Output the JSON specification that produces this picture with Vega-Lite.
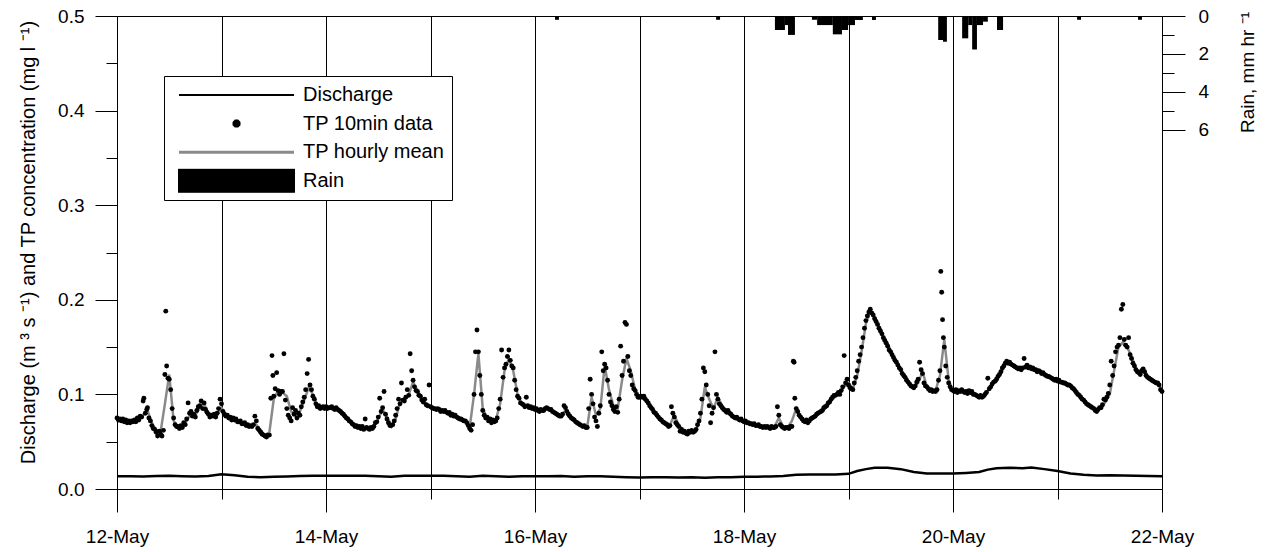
{
"$schema":"https://vega.github.io/schema/vega-lite/v6.json",
"autosize":{"type":"none"},
"width":1045,"height":473,
"padding":{"left":117,"top":16,"right":104,"bottom":63},
"background":"white",
"config":{
 "font":"Liberation Sans",
 "view":{"stroke":"black","strokeWidth":1},
 "axis":{"labelFont":"Liberation Sans","titleFont":"Liberation Sans","labelFontSize":19,"titleFontSize":20,"titleFontWeight":"normal","labelColor":"black","titleColor":"black","tickColor":"black","tickWidth":1,"domainColor":"black"}
},
"datasets":{
"q":[{"t":0,"q":0.0135},{"t":3,"q":0.0135},{"t":6,"q":0.0133},{"t":9,"q":0.0138},{"t":12,"q":0.014},{"t":15,"q":0.0135},{"t":18,"q":0.0133},{"t":21,"q":0.0138},{"t":24,"q":0.0155},{"t":27,"q":0.0145},{"t":30,"q":0.013},{"t":33,"q":0.0125},{"t":36,"q":0.013},{"t":39,"q":0.0133},{"t":42,"q":0.0138},{"t":45,"q":0.014},{"t":48,"q":0.014},{"t":51,"q":0.014},{"t":54,"q":0.014},{"t":57,"q":0.014},{"t":60,"q":0.0135},{"t":63,"q":0.013},{"t":66,"q":0.014},{"t":69,"q":0.014},{"t":72,"q":0.014},{"t":75,"q":0.014},{"t":78,"q":0.0135},{"t":81,"q":0.013},{"t":84,"q":0.014},{"t":87,"q":0.0135},{"t":90,"q":0.013},{"t":93,"q":0.0135},{"t":96,"q":0.0135},{"t":99,"q":0.0135},{"t":102,"q":0.0137},{"t":105,"q":0.013},{"t":108,"q":0.0135},{"t":111,"q":0.0135},{"t":114,"q":0.013},{"t":117,"q":0.0125},{"t":120,"q":0.0122},{"t":123,"q":0.0125},{"t":126,"q":0.0125},{"t":129,"q":0.0122},{"t":132,"q":0.0125},{"t":135,"q":0.012},{"t":138,"q":0.0125},{"t":141,"q":0.0125},{"t":144,"q":0.013},{"t":147,"q":0.013},{"t":150,"q":0.0133},{"t":153,"q":0.0138},{"t":156,"q":0.015},{"t":159,"q":0.0152},{"t":162,"q":0.0152},{"t":165,"q":0.0152},{"t":168,"q":0.016},{"t":170,"q":0.019},{"t":172,"q":0.021},{"t":174,"q":0.0225},{"t":177,"q":0.0225},{"t":180,"q":0.021},{"t":183,"q":0.018},{"t":186,"q":0.0165},{"t":189,"q":0.0163},{"t":192,"q":0.0163},{"t":195,"q":0.017},{"t":198,"q":0.018},{"t":200,"q":0.0205},{"t":202,"q":0.022},{"t":205,"q":0.0225},{"t":208,"q":0.022},{"t":210,"q":0.0228},{"t":213,"q":0.021},{"t":216,"q":0.019},{"t":219,"q":0.0165},{"t":222,"q":0.015},{"t":225,"q":0.0142},{"t":228,"q":0.0145},{"t":231,"q":0.0142},{"t":234,"q":0.014},{"t":237,"q":0.0138},{"t":240,"q":0.0136}],
"hm":[{"t":0,"tp":0.074},{"t":1,"tp":0.073},{"t":2,"tp":0.072},{"t":3,"tp":0.071},{"t":4,"tp":0.072},{"t":5,"tp":0.074},{"t":6,"tp":0.078},{"t":7,"tp":0.083},{"t":8,"tp":0.07},{"t":9,"tp":0.062},{"t":10,"tp":0.06},{"t":11,"tp":0.09},{"t":12,"tp":0.121},{"t":13,"tp":0.072},{"t":14,"tp":0.066},{"t":15,"tp":0.066},{"t":16,"tp":0.072},{"t":17,"tp":0.08},{"t":18,"tp":0.078},{"t":19,"tp":0.086},{"t":20,"tp":0.09},{"t":21,"tp":0.08},{"t":22,"tp":0.077},{"t":23,"tp":0.078},{"t":24,"tp":0.086},{"t":25,"tp":0.078},{"t":26,"tp":0.076},{"t":27,"tp":0.074},{"t":28,"tp":0.072},{"t":29,"tp":0.07},{"t":30,"tp":0.068},{"t":31,"tp":0.067},{"t":32,"tp":0.068},{"t":33,"tp":0.062},{"t":34,"tp":0.057},{"t":35,"tp":0.06},{"t":36,"tp":0.095},{"t":37,"tp":0.104},{"t":38,"tp":0.102},{"t":39,"tp":0.098},{"t":40,"tp":0.082},{"t":41,"tp":0.078},{"t":42,"tp":0.082},{"t":43,"tp":0.094},{"t":44,"tp":0.107},{"t":45,"tp":0.1},{"t":46,"tp":0.088},{"t":47,"tp":0.086},{"t":48,"tp":0.086},{"t":49,"tp":0.086},{"t":50,"tp":0.085},{"t":51,"tp":0.084},{"t":52,"tp":0.08},{"t":53,"tp":0.075},{"t":54,"tp":0.07},{"t":55,"tp":0.067},{"t":56,"tp":0.065},{"t":57,"tp":0.065},{"t":58,"tp":0.064},{"t":59,"tp":0.066},{"t":60,"tp":0.074},{"t":61,"tp":0.084},{"t":62,"tp":0.076},{"t":63,"tp":0.066},{"t":64,"tp":0.074},{"t":65,"tp":0.092},{"t":66,"tp":0.095},{"t":67,"tp":0.1},{"t":68,"tp":0.113},{"t":69,"tp":0.104},{"t":70,"tp":0.097},{"t":71,"tp":0.09},{"t":72,"tp":0.088},{"t":73,"tp":0.085},{"t":74,"tp":0.084},{"t":75,"tp":0.083},{"t":76,"tp":0.081},{"t":77,"tp":0.079},{"t":78,"tp":0.077},{"t":79,"tp":0.074},{"t":80,"tp":0.072},{"t":81,"tp":0.065},{"t":82,"tp":0.1},{"t":83,"tp":0.143},{"t":84,"tp":0.085},{"t":85,"tp":0.075},{"t":86,"tp":0.072},{"t":87,"tp":0.073},{"t":88,"tp":0.09},{"t":89,"tp":0.125},{"t":90,"tp":0.138},{"t":91,"tp":0.125},{"t":92,"tp":0.1},{"t":93,"tp":0.09},{"t":94,"tp":0.087},{"t":95,"tp":0.086},{"t":96,"tp":0.085},{"t":97,"tp":0.083},{"t":98,"tp":0.083},{"t":99,"tp":0.085},{"t":100,"tp":0.083},{"t":101,"tp":0.08},{"t":102,"tp":0.078},{"t":103,"tp":0.083},{"t":104,"tp":0.078},{"t":105,"tp":0.073},{"t":106,"tp":0.07},{"t":107,"tp":0.067},{"t":108,"tp":0.066},{"t":109,"tp":0.097},{"t":110,"tp":0.078},{"t":111,"tp":0.085},{"t":112,"tp":0.13},{"t":113,"tp":0.105},{"t":114,"tp":0.088},{"t":115,"tp":0.085},{"t":116,"tp":0.115},{"t":117,"tp":0.138},{"t":118,"tp":0.125},{"t":119,"tp":0.105},{"t":120,"tp":0.097},{"t":121,"tp":0.097},{"t":122,"tp":0.092},{"t":123,"tp":0.085},{"t":124,"tp":0.079},{"t":125,"tp":0.074},{"t":126,"tp":0.07},{"t":127,"tp":0.068},{"t":128,"tp":0.078},{"t":129,"tp":0.068},{"t":130,"tp":0.062},{"t":131,"tp":0.06},{"t":132,"tp":0.061},{"t":133,"tp":0.062},{"t":134,"tp":0.075},{"t":135,"tp":0.108},{"t":136,"tp":0.095},{"t":137,"tp":0.085},{"t":138,"tp":0.097},{"t":139,"tp":0.088},{"t":140,"tp":0.082},{"t":141,"tp":0.08},{"t":142,"tp":0.076},{"t":143,"tp":0.074},{"t":144,"tp":0.072},{"t":145,"tp":0.07},{"t":146,"tp":0.069},{"t":147,"tp":0.068},{"t":148,"tp":0.066},{"t":149,"tp":0.066},{"t":150,"tp":0.065},{"t":151,"tp":0.066},{"t":152,"tp":0.075},{"t":153,"tp":0.066},{"t":154,"tp":0.065},{"t":155,"tp":0.072},{"t":156,"tp":0.085},{"t":157,"tp":0.076},{"t":158,"tp":0.072},{"t":159,"tp":0.072},{"t":160,"tp":0.075},{"t":161,"tp":0.079},{"t":162,"tp":0.082},{"t":163,"tp":0.087},{"t":164,"tp":0.093},{"t":165,"tp":0.098},{"t":166,"tp":0.101},{"t":167,"tp":0.108},{"t":168,"tp":0.112},{"t":169,"tp":0.106},{"t":170,"tp":0.12},{"t":171,"tp":0.145},{"t":172,"tp":0.175},{"t":173,"tp":0.188},{"t":174,"tp":0.182},{"t":175,"tp":0.172},{"t":176,"tp":0.162},{"t":177,"tp":0.153},{"t":178,"tp":0.143},{"t":179,"tp":0.135},{"t":180,"tp":0.127},{"t":181,"tp":0.119},{"t":182,"tp":0.112},{"t":183,"tp":0.108},{"t":184,"tp":0.112},{"t":185,"tp":0.124},{"t":186,"tp":0.108},{"t":187,"tp":0.105},{"t":188,"tp":0.104},{"t":189,"tp":0.12},{"t":190,"tp":0.158},{"t":191,"tp":0.115},{"t":192,"tp":0.104},{"t":193,"tp":0.103},{"t":194,"tp":0.104},{"t":195,"tp":0.102},{"t":196,"tp":0.103},{"t":197,"tp":0.101},{"t":198,"tp":0.098},{"t":199,"tp":0.098},{"t":200,"tp":0.104},{"t":201,"tp":0.11},{"t":202,"tp":0.115},{"t":203,"tp":0.122},{"t":204,"tp":0.132},{"t":205,"tp":0.134},{"t":206,"tp":0.131},{"t":207,"tp":0.128},{"t":208,"tp":0.127},{"t":209,"tp":0.13},{"t":210,"tp":0.128},{"t":211,"tp":0.127},{"t":212,"tp":0.125},{"t":213,"tp":0.122},{"t":214,"tp":0.12},{"t":215,"tp":0.117},{"t":216,"tp":0.115},{"t":217,"tp":0.114},{"t":218,"tp":0.112},{"t":219,"tp":0.11},{"t":220,"tp":0.106},{"t":221,"tp":0.1},{"t":222,"tp":0.095},{"t":223,"tp":0.09},{"t":224,"tp":0.087},{"t":225,"tp":0.084},{"t":226,"tp":0.085},{"t":227,"tp":0.092},{"t":228,"tp":0.1},{"t":229,"tp":0.125},{"t":230,"tp":0.15},{"t":231,"tp":0.155},{"t":232,"tp":0.15},{"t":233,"tp":0.14},{"t":234,"tp":0.128},{"t":235,"tp":0.122},{"t":236,"tp":0.125},{"t":237,"tp":0.118},{"t":238,"tp":0.115},{"t":239,"tp":0.112},{"t":240,"tp":0.105}],
"tp":[{"t":0,"tp":0.075},{"t":0.33,"tp":0.073},{"t":0.67,"tp":0.074},{"t":1,"tp":0.072},{"t":1.33,"tp":0.074},{"t":1.67,"tp":0.071},{"t":2,"tp":0.073},{"t":2.33,"tp":0.07},{"t":2.67,"tp":0.072},{"t":3,"tp":0.07},{"t":3.33,"tp":0.072},{"t":3.67,"tp":0.071},{"t":4,"tp":0.073},{"t":4.33,"tp":0.071},{"t":4.67,"tp":0.075},{"t":5,"tp":0.073},{"t":5.33,"tp":0.077},{"t":5.67,"tp":0.076},{"t":6,"tp":0.093},{"t":6.17,"tp":0.096},{"t":6.5,"tp":0.08},{"t":6.83,"tp":0.084},{"t":7,"tp":0.086},{"t":7.33,"tp":0.075},{"t":7.67,"tp":0.072},{"t":8,"tp":0.067},{"t":8.33,"tp":0.064},{"t":8.67,"tp":0.063},{"t":9,"tp":0.06},{"t":9.33,"tp":0.056},{"t":9.67,"tp":0.061},{"t":10,"tp":0.058},{"t":10.33,"tp":0.056},{"t":10.67,"tp":0.062},{"t":11,"tp":0.121},{"t":11.2,"tp":0.188},{"t":11.4,"tp":0.13},{"t":11.7,"tp":0.117},{"t":12,"tp":0.116},{"t":12.33,"tp":0.105},{"t":12.67,"tp":0.085},{"t":13,"tp":0.075},{"t":13.33,"tp":0.068},{"t":13.67,"tp":0.066},{"t":14,"tp":0.066},{"t":14.33,"tp":0.064},{"t":14.67,"tp":0.067},{"t":15,"tp":0.065},{"t":15.33,"tp":0.07},{"t":15.67,"tp":0.068},{"t":16,"tp":0.074},{"t":16.33,"tp":0.091},{"t":16.67,"tp":0.08},{"t":17,"tp":0.082},{"t":17.33,"tp":0.077},{"t":17.67,"tp":0.079},{"t":18,"tp":0.076},{"t":18.33,"tp":0.083},{"t":18.67,"tp":0.087},{"t":19,"tp":0.088},{"t":19.33,"tp":0.093},{"t":19.67,"tp":0.085},{"t":20,"tp":0.091},{"t":20.33,"tp":0.084},{"t":20.67,"tp":0.081},{"t":21,"tp":0.079},{"t":21.33,"tp":0.076},{"t":21.67,"tp":0.078},{"t":22,"tp":0.077},{"t":22.33,"tp":0.079},{"t":22.67,"tp":0.076},{"t":23,"tp":0.08},{"t":23.33,"tp":0.085},{"t":23.67,"tp":0.095},{"t":24,"tp":0.09},{"t":24.33,"tp":0.082},{"t":24.67,"tp":0.079},{"t":25,"tp":0.077},{"t":25.33,"tp":0.078},{"t":25.67,"tp":0.075},{"t":26,"tp":0.076},{"t":26.33,"tp":0.073},{"t":26.67,"tp":0.075},{"t":27,"tp":0.073},{"t":27.33,"tp":0.074},{"t":27.67,"tp":0.071},{"t":28,"tp":0.071},{"t":28.33,"tp":0.072},{"t":28.67,"tp":0.069},{"t":29,"tp":0.069},{"t":29.33,"tp":0.07},{"t":29.67,"tp":0.067},{"t":30,"tp":0.068},{"t":30.33,"tp":0.066},{"t":30.67,"tp":0.067},{"t":31,"tp":0.066},{"t":31.33,"tp":0.068},{"t":31.67,"tp":0.077},{"t":32,"tp":0.072},{"t":32.33,"tp":0.064},{"t":32.67,"tp":0.062},{"t":33,"tp":0.06},{"t":33.33,"tp":0.058},{"t":33.67,"tp":0.057},{"t":34,"tp":0.056},{"t":34.33,"tp":0.055},{"t":34.67,"tp":0.057},{"t":35,"tp":0.057},{"t":35.33,"tp":0.096},{"t":35.6,"tp":0.141},{"t":35.8,"tp":0.12},{"t":36,"tp":0.098},{"t":36.33,"tp":0.106},{"t":36.67,"tp":0.123},{"t":37,"tp":0.104},{"t":37.33,"tp":0.1},{"t":37.67,"tp":0.103},{"t":38,"tp":0.103},{"t":38.33,"tp":0.143},{"t":38.67,"tp":0.094},{"t":39,"tp":0.085},{"t":39.33,"tp":0.078},{"t":39.67,"tp":0.075},{"t":40,"tp":0.072},{"t":40.33,"tp":0.086},{"t":40.67,"tp":0.079},{"t":41,"tp":0.083},{"t":41.33,"tp":0.075},{"t":41.67,"tp":0.08},{"t":42,"tp":0.078},{"t":42.33,"tp":0.087},{"t":42.67,"tp":0.092},{"t":43,"tp":0.097},{"t":43.33,"tp":0.105},{"t":43.67,"tp":0.122},{"t":44,"tp":0.137},{"t":44.33,"tp":0.11},{"t":44.67,"tp":0.105},{"t":45,"tp":0.098},{"t":45.33,"tp":0.095},{"t":45.67,"tp":0.09},{"t":46,"tp":0.087},{"t":46.33,"tp":0.088},{"t":46.67,"tp":0.085},{"t":47,"tp":0.086},{"t":47.33,"tp":0.087},{"t":47.67,"tp":0.085},{"t":48,"tp":0.087},{"t":48.33,"tp":0.085},{"t":48.67,"tp":0.086},{"t":49,"tp":0.086},{"t":49.33,"tp":0.087},{"t":49.67,"tp":0.085},{"t":50,"tp":0.084},{"t":50.33,"tp":0.086},{"t":50.67,"tp":0.084},{"t":51,"tp":0.083},{"t":51.33,"tp":0.082},{"t":51.67,"tp":0.08},{"t":52,"tp":0.079},{"t":52.33,"tp":0.077},{"t":52.67,"tp":0.075},{"t":53,"tp":0.074},{"t":53.33,"tp":0.072},{"t":53.67,"tp":0.071},{"t":54,"tp":0.069},{"t":54.33,"tp":0.068},{"t":54.67,"tp":0.066},{"t":55,"tp":0.067},{"t":55.33,"tp":0.065},{"t":55.67,"tp":0.066},{"t":56,"tp":0.064},{"t":56.33,"tp":0.066},{"t":56.67,"tp":0.063},{"t":57,"tp":0.074},{"t":57.33,"tp":0.065},{"t":57.67,"tp":0.064},{"t":58,"tp":0.063},{"t":58.33,"tp":0.065},{"t":58.67,"tp":0.064},{"t":59,"tp":0.066},{"t":59.33,"tp":0.07},{"t":59.67,"tp":0.071},{"t":60,"tp":0.076},{"t":60.33,"tp":0.096},{"t":60.67,"tp":0.082},{"t":61,"tp":0.086},{"t":61.33,"tp":0.103},{"t":61.67,"tp":0.079},{"t":62,"tp":0.074},{"t":62.33,"tp":0.07},{"t":62.67,"tp":0.067},{"t":63,"tp":0.067},{"t":63.33,"tp":0.068},{"t":63.67,"tp":0.072},{"t":64,"tp":0.078},{"t":64.33,"tp":0.085},{"t":64.67,"tp":0.095},{"t":65,"tp":0.09},{"t":65.33,"tp":0.112},{"t":65.67,"tp":0.094},{"t":66,"tp":0.093},{"t":66.33,"tp":0.097},{"t":66.67,"tp":0.105},{"t":67,"tp":0.099},{"t":67.33,"tp":0.143},{"t":67.67,"tp":0.125},{"t":68,"tp":0.115},{"t":68.33,"tp":0.108},{"t":68.67,"tp":0.104},{"t":69,"tp":0.103},{"t":69.33,"tp":0.099},{"t":69.67,"tp":0.098},{"t":70,"tp":0.094},{"t":70.33,"tp":0.092},{"t":70.67,"tp":0.095},{"t":71,"tp":0.089},{"t":71.33,"tp":0.088},{"t":71.67,"tp":0.11},{"t":72,"tp":0.087},{"t":72.33,"tp":0.086},{"t":72.67,"tp":0.085},{"t":73,"tp":0.085},{"t":73.33,"tp":0.084},{"t":73.67,"tp":0.085},{"t":74,"tp":0.084},{"t":74.33,"tp":0.082},{"t":74.67,"tp":0.083},{"t":75,"tp":0.082},{"t":75.33,"tp":0.083},{"t":75.67,"tp":0.081},{"t":76,"tp":0.08},{"t":76.33,"tp":0.081},{"t":76.67,"tp":0.078},{"t":77,"tp":0.079},{"t":77.33,"tp":0.077},{"t":77.67,"tp":0.078},{"t":78,"tp":0.076},{"t":78.33,"tp":0.075},{"t":78.67,"tp":0.074},{"t":79,"tp":0.074},{"t":79.33,"tp":0.073},{"t":79.67,"tp":0.072},{"t":80,"tp":0.072},{"t":80.33,"tp":0.07},{"t":80.67,"tp":0.067},{"t":81,"tp":0.064},{"t":81.33,"tp":0.062},{"t":81.67,"tp":0.068},{"t":82,"tp":0.1},{"t":82.33,"tp":0.145},{"t":82.67,"tp":0.168},{"t":83,"tp":0.145},{"t":83.33,"tp":0.12},{"t":83.67,"tp":0.1},{"t":84,"tp":0.083},{"t":84.33,"tp":0.078},{"t":84.67,"tp":0.075},{"t":85,"tp":0.076},{"t":85.33,"tp":0.072},{"t":85.67,"tp":0.074},{"t":86,"tp":0.07},{"t":86.33,"tp":0.073},{"t":86.67,"tp":0.071},{"t":87,"tp":0.072},{"t":87.33,"tp":0.075},{"t":87.67,"tp":0.085},{"t":88,"tp":0.095},{"t":88.33,"tp":0.147},{"t":88.67,"tp":0.118},{"t":89,"tp":0.128},{"t":89.33,"tp":0.132},{"t":89.67,"tp":0.14},{"t":90,"tp":0.147},{"t":90.33,"tp":0.136},{"t":90.67,"tp":0.13},{"t":91,"tp":0.128},{"t":91.33,"tp":0.115},{"t":91.67,"tp":0.105},{"t":92,"tp":0.098},{"t":92.33,"tp":0.096},{"t":92.67,"tp":0.091},{"t":93,"tp":0.09},{"t":93.33,"tp":0.089},{"t":93.67,"tp":0.087},{"t":94,"tp":0.097},{"t":94.33,"tp":0.088},{"t":94.67,"tp":0.086},{"t":95,"tp":0.087},{"t":95.33,"tp":0.085},{"t":95.67,"tp":0.086},{"t":96,"tp":0.084},{"t":96.33,"tp":0.085},{"t":96.67,"tp":0.083},{"t":97,"tp":0.082},{"t":97.33,"tp":0.084},{"t":97.67,"tp":0.083},{"t":98,"tp":0.083},{"t":98.33,"tp":0.085},{"t":98.67,"tp":0.086},{"t":99,"tp":0.085},{"t":99.33,"tp":0.084},{"t":99.67,"tp":0.084},{"t":100,"tp":0.082},{"t":100.33,"tp":0.081},{"t":100.67,"tp":0.08},{"t":101,"tp":0.079},{"t":101.33,"tp":0.078},{"t":101.67,"tp":0.077},{"t":102,"tp":0.077},{"t":102.33,"tp":0.079},{"t":102.67,"tp":0.088},{"t":103,"tp":0.086},{"t":103.33,"tp":0.082},{"t":103.67,"tp":0.079},{"t":104,"tp":0.077},{"t":104.33,"tp":0.075},{"t":104.67,"tp":0.074},{"t":105,"tp":0.073},{"t":105.33,"tp":0.071},{"t":105.67,"tp":0.07},{"t":106,"tp":0.069},{"t":106.33,"tp":0.068},{"t":106.67,"tp":0.067},{"t":107,"tp":0.066},{"t":107.33,"tp":0.067},{"t":107.67,"tp":0.065},{"t":108,"tp":0.065},{"t":108.33,"tp":0.085},{"t":108.67,"tp":0.116},{"t":109,"tp":0.1},{"t":109.33,"tp":0.09},{"t":109.67,"tp":0.076},{"t":110,"tp":0.072},{"t":110.33,"tp":0.066},{"t":110.67,"tp":0.08},{"t":111,"tp":0.088},{"t":111.33,"tp":0.145},{"t":111.67,"tp":0.125},{"t":112,"tp":0.132},{"t":112.33,"tp":0.128},{"t":112.67,"tp":0.115},{"t":113,"tp":0.1},{"t":113.33,"tp":0.092},{"t":113.67,"tp":0.088},{"t":114,"tp":0.084},{"t":114.33,"tp":0.082},{"t":114.67,"tp":0.087},{"t":115,"tp":0.081},{"t":115.33,"tp":0.095},{"t":115.67,"tp":0.151},{"t":116,"tp":0.12},{"t":116.33,"tp":0.135},{"t":116.67,"tp":0.176},{"t":117,"tp":0.174},{"t":117.33,"tp":0.14},{"t":117.67,"tp":0.125},{"t":118,"tp":0.12},{"t":118.33,"tp":0.11},{"t":118.67,"tp":0.106},{"t":119,"tp":0.104},{"t":119.33,"tp":0.1},{"t":119.67,"tp":0.097},{"t":120,"tp":0.097},{"t":120.33,"tp":0.098},{"t":120.67,"tp":0.097},{"t":121,"tp":0.098},{"t":121.33,"tp":0.095},{"t":121.67,"tp":0.093},{"t":122,"tp":0.091},{"t":122.33,"tp":0.088},{"t":122.67,"tp":0.086},{"t":123,"tp":0.084},{"t":123.33,"tp":0.081},{"t":123.67,"tp":0.08},{"t":124,"tp":0.078},{"t":124.33,"tp":0.076},{"t":124.67,"tp":0.074},{"t":125,"tp":0.073},{"t":125.33,"tp":0.071},{"t":125.67,"tp":0.07},{"t":126,"tp":0.069},{"t":126.33,"tp":0.068},{"t":126.67,"tp":0.066},{"t":127,"tp":0.067},{"t":127.33,"tp":0.087},{"t":127.67,"tp":0.08},{"t":128,"tp":0.076},{"t":128.33,"tp":0.07},{"t":128.67,"tp":0.068},{"t":129,"tp":0.066},{"t":129.33,"tp":0.061},{"t":129.67,"tp":0.063},{"t":130,"tp":0.06},{"t":130.33,"tp":0.061},{"t":130.67,"tp":0.059},{"t":131,"tp":0.058},{"t":131.33,"tp":0.061},{"t":131.67,"tp":0.06},{"t":132,"tp":0.062},{"t":132.33,"tp":0.06},{"t":132.67,"tp":0.061},{"t":133,"tp":0.063},{"t":133.33,"tp":0.068},{"t":133.67,"tp":0.072},{"t":134,"tp":0.08},{"t":134.33,"tp":0.095},{"t":134.67,"tp":0.128},{"t":135,"tp":0.124},{"t":135.33,"tp":0.11},{"t":135.67,"tp":0.1},{"t":136,"tp":0.088},{"t":136.33,"tp":0.07},{"t":136.67,"tp":0.08},{"t":137,"tp":0.086},{"t":137.33,"tp":0.145},{"t":137.67,"tp":0.1},{"t":138,"tp":0.095},{"t":138.33,"tp":0.09},{"t":138.67,"tp":0.088},{"t":139,"tp":0.086},{"t":139.33,"tp":0.084},{"t":139.67,"tp":0.083},{"t":140,"tp":0.081},{"t":140.33,"tp":0.083},{"t":140.67,"tp":0.08},{"t":141,"tp":0.079},{"t":141.33,"tp":0.077},{"t":141.67,"tp":0.076},{"t":142,"tp":0.075},{"t":142.33,"tp":0.076},{"t":142.67,"tp":0.074},{"t":143,"tp":0.073},{"t":143.33,"tp":0.074},{"t":143.67,"tp":0.072},{"t":144,"tp":0.071},{"t":144.33,"tp":0.072},{"t":144.67,"tp":0.07},{"t":145,"tp":0.07},{"t":145.33,"tp":0.069},{"t":145.67,"tp":0.069},{"t":146,"tp":0.068},{"t":146.33,"tp":0.069},{"t":146.67,"tp":0.067},{"t":147,"tp":0.067},{"t":147.33,"tp":0.068},{"t":147.67,"tp":0.066},{"t":148,"tp":0.066},{"t":148.33,"tp":0.065},{"t":148.67,"tp":0.066},{"t":149,"tp":0.065},{"t":149.33,"tp":0.066},{"t":149.67,"tp":0.065},{"t":150,"tp":0.064},{"t":150.33,"tp":0.066},{"t":150.67,"tp":0.065},{"t":151,"tp":0.065},{"t":151.33,"tp":0.066},{"t":151.67,"tp":0.087},{"t":152,"tp":0.078},{"t":152.33,"tp":0.068},{"t":152.67,"tp":0.066},{"t":153,"tp":0.065},{"t":153.33,"tp":0.064},{"t":153.67,"tp":0.065},{"t":154,"tp":0.065},{"t":154.33,"tp":0.064},{"t":154.67,"tp":0.066},{"t":155,"tp":0.066},{"t":155.33,"tp":0.135},{"t":155.5,"tp":0.134},{"t":155.67,"tp":0.096},{"t":156,"tp":0.085},{"t":156.33,"tp":0.082},{"t":156.67,"tp":0.078},{"t":157,"tp":0.076},{"t":157.33,"tp":0.074},{"t":157.67,"tp":0.072},{"t":158,"tp":0.071},{"t":158.33,"tp":0.073},{"t":158.67,"tp":0.07},{"t":159,"tp":0.072},{"t":159.33,"tp":0.074},{"t":159.67,"tp":0.075},{"t":160,"tp":0.076},{"t":160.33,"tp":0.077},{"t":160.67,"tp":0.079},{"t":161,"tp":0.08},{"t":161.33,"tp":0.081},{"t":161.67,"tp":0.082},{"t":162,"tp":0.083},{"t":162.33,"tp":0.086},{"t":162.67,"tp":0.087},{"t":163,"tp":0.088},{"t":163.33,"tp":0.091},{"t":163.67,"tp":0.092},{"t":164,"tp":0.095},{"t":164.33,"tp":0.097},{"t":164.67,"tp":0.099},{"t":165,"tp":0.099},{"t":165.33,"tp":0.1},{"t":165.67,"tp":0.102},{"t":166,"tp":0.1},{"t":166.33,"tp":0.104},{"t":166.67,"tp":0.108},{"t":167,"tp":0.141},{"t":167.33,"tp":0.112},{"t":167.67,"tp":0.116},{"t":168,"tp":0.11},{"t":168.33,"tp":0.107},{"t":168.67,"tp":0.106},{"t":169,"tp":0.105},{"t":169.33,"tp":0.112},{"t":169.67,"tp":0.118},{"t":170,"tp":0.125},{"t":170.33,"tp":0.135},{"t":170.67,"tp":0.142},{"t":171,"tp":0.15},{"t":171.33,"tp":0.16},{"t":171.67,"tp":0.17},{"t":172,"tp":0.178},{"t":172.33,"tp":0.183},{"t":172.67,"tp":0.187},{"t":173,"tp":0.19},{"t":173.33,"tp":0.186},{"t":173.67,"tp":0.184},{"t":174,"tp":0.18},{"t":174.33,"tp":0.177},{"t":174.67,"tp":0.174},{"t":175,"tp":0.17},{"t":175.33,"tp":0.167},{"t":175.67,"tp":0.164},{"t":176,"tp":0.16},{"t":176.33,"tp":0.157},{"t":176.67,"tp":0.154},{"t":177,"tp":0.151},{"t":177.33,"tp":0.147},{"t":177.67,"tp":0.145},{"t":178,"tp":0.142},{"t":178.33,"tp":0.139},{"t":178.67,"tp":0.136},{"t":179,"tp":0.134},{"t":179.33,"tp":0.131},{"t":179.67,"tp":0.128},{"t":180,"tp":0.126},{"t":180.33,"tp":0.122},{"t":180.67,"tp":0.12},{"t":181,"tp":0.118},{"t":181.33,"tp":0.115},{"t":181.67,"tp":0.113},{"t":182,"tp":0.111},{"t":182.33,"tp":0.109},{"t":182.67,"tp":0.108},{"t":183,"tp":0.107},{"t":183.33,"tp":0.109},{"t":183.67,"tp":0.113},{"t":184,"tp":0.116},{"t":184.33,"tp":0.134},{"t":184.67,"tp":0.126},{"t":185,"tp":0.122},{"t":185.33,"tp":0.112},{"t":185.67,"tp":0.109},{"t":186,"tp":0.108},{"t":186.33,"tp":0.106},{"t":186.67,"tp":0.104},{"t":187,"tp":0.105},{"t":187.33,"tp":0.103},{"t":187.67,"tp":0.104},{"t":188,"tp":0.103},{"t":188.33,"tp":0.105},{"t":188.67,"tp":0.115},{"t":189,"tp":0.125},{"t":189.2,"tp":0.23},{"t":189.4,"tp":0.208},{"t":189.6,"tp":0.179},{"t":189.8,"tp":0.16},{"t":190,"tp":0.15},{"t":190.33,"tp":0.13},{"t":190.67,"tp":0.118},{"t":191,"tp":0.112},{"t":191.33,"tp":0.108},{"t":191.67,"tp":0.105},{"t":192,"tp":0.104},{"t":192.33,"tp":0.103},{"t":192.67,"tp":0.105},{"t":193,"tp":0.102},{"t":193.33,"tp":0.104},{"t":193.67,"tp":0.103},{"t":194,"tp":0.105},{"t":194.33,"tp":0.103},{"t":194.67,"tp":0.102},{"t":195,"tp":0.103},{"t":195.33,"tp":0.101},{"t":195.67,"tp":0.104},{"t":196,"tp":0.102},{"t":196.33,"tp":0.103},{"t":196.67,"tp":0.1},{"t":197,"tp":0.1},{"t":197.33,"tp":0.099},{"t":197.67,"tp":0.098},{"t":198,"tp":0.097},{"t":198.33,"tp":0.099},{"t":198.67,"tp":0.097},{"t":199,"tp":0.098},{"t":199.33,"tp":0.1},{"t":199.67,"tp":0.102},{"t":200,"tp":0.117},{"t":200.33,"tp":0.106},{"t":200.67,"tp":0.108},{"t":201,"tp":0.111},{"t":201.33,"tp":0.113},{"t":201.67,"tp":0.114},{"t":202,"tp":0.116},{"t":202.33,"tp":0.119},{"t":202.67,"tp":0.121},{"t":203,"tp":0.124},{"t":203.33,"tp":0.128},{"t":203.67,"tp":0.13},{"t":204,"tp":0.133},{"t":204.33,"tp":0.135},{"t":204.67,"tp":0.133},{"t":205,"tp":0.134},{"t":205.33,"tp":0.132},{"t":205.67,"tp":0.131},{"t":206,"tp":0.13},{"t":206.33,"tp":0.129},{"t":206.67,"tp":0.128},{"t":207,"tp":0.127},{"t":207.33,"tp":0.128},{"t":207.67,"tp":0.126},{"t":208,"tp":0.128},{"t":208.33,"tp":0.138},{"t":208.67,"tp":0.129},{"t":209,"tp":0.131},{"t":209.33,"tp":0.128},{"t":209.67,"tp":0.129},{"t":210,"tp":0.127},{"t":210.33,"tp":0.128},{"t":210.67,"tp":0.126},{"t":211,"tp":0.126},{"t":211.33,"tp":0.124},{"t":211.67,"tp":0.125},{"t":212,"tp":0.124},{"t":212.33,"tp":0.122},{"t":212.67,"tp":0.123},{"t":213,"tp":0.121},{"t":213.33,"tp":0.12},{"t":213.67,"tp":0.119},{"t":214,"tp":0.119},{"t":214.33,"tp":0.118},{"t":214.67,"tp":0.117},{"t":215,"tp":0.116},{"t":215.33,"tp":0.115},{"t":215.67,"tp":0.116},{"t":216,"tp":0.114},{"t":216.33,"tp":0.115},{"t":216.67,"tp":0.113},{"t":217,"tp":0.113},{"t":217.33,"tp":0.112},{"t":217.67,"tp":0.112},{"t":218,"tp":0.111},{"t":218.33,"tp":0.11},{"t":218.67,"tp":0.11},{"t":219,"tp":0.109},{"t":219.33,"tp":0.107},{"t":219.67,"tp":0.106},{"t":220,"tp":0.104},{"t":220.33,"tp":0.102},{"t":220.67,"tp":0.1},{"t":221,"tp":0.099},{"t":221.33,"tp":0.097},{"t":221.67,"tp":0.095},{"t":222,"tp":0.094},{"t":222.33,"tp":0.092},{"t":222.67,"tp":0.09},{"t":223,"tp":0.089},{"t":223.33,"tp":0.088},{"t":223.67,"tp":0.087},{"t":224,"tp":0.086},{"t":224.33,"tp":0.085},{"t":224.67,"tp":0.083},{"t":225,"tp":0.082},{"t":225.33,"tp":0.084},{"t":225.67,"tp":0.086},{"t":226,"tp":0.086},{"t":226.33,"tp":0.089},{"t":226.67,"tp":0.095},{"t":227,"tp":0.094},{"t":227.33,"tp":0.097},{"t":227.67,"tp":0.101},{"t":228,"tp":0.11},{"t":228.33,"tp":0.135},{"t":228.67,"tp":0.12},{"t":229,"tp":0.13},{"t":229.33,"tp":0.145},{"t":229.67,"tp":0.15},{"t":230,"tp":0.152},{"t":230.33,"tp":0.16},{"t":230.67,"tp":0.19},{"t":231,"tp":0.195},{"t":231.33,"tp":0.158},{"t":231.67,"tp":0.152},{"t":232,"tp":0.15},{"t":232.33,"tp":0.16},{"t":232.67,"tp":0.142},{"t":233,"tp":0.138},{"t":233.33,"tp":0.133},{"t":233.67,"tp":0.13},{"t":234,"tp":0.126},{"t":234.33,"tp":0.124},{"t":234.67,"tp":0.123},{"t":235,"tp":0.121},{"t":235.33,"tp":0.125},{"t":235.67,"tp":0.127},{"t":236,"tp":0.124},{"t":236.33,"tp":0.12},{"t":236.67,"tp":0.118},{"t":237,"tp":0.117},{"t":237.33,"tp":0.116},{"t":237.67,"tp":0.115},{"t":238,"tp":0.114},{"t":238.33,"tp":0.113},{"t":238.67,"tp":0.112},{"t":239,"tp":0.112},{"t":239.33,"tp":0.11},{"t":239.67,"tp":0.105},{"t":240,"tp":0.103}],
"rain":[{"t":100.6,"t2":101.5,"rain":0.2},{"t":137.6,"t2":138.5,"rain":0.2},{"t":151.1,"t2":153.4,"rain":0.74},{"t":153.4,"t2":154.1,"rain":0.48},{"t":154.1,"t2":155.7,"rain":1.0},{"t":159.6,"t2":160.8,"rain":0.2},{"t":160.8,"t2":164.4,"rain":0.48},{"t":164.4,"t2":166.5,"rain":0.97},{"t":166.5,"t2":167.9,"rain":0.74},{"t":167.9,"t2":169.5,"rain":0.48},{"t":169.5,"t2":171.3,"rain":0.21},{"t":173.4,"t2":174.3,"rain":0.21},{"t":188.6,"t2":189.7,"rain":1.27},{"t":189.7,"t2":190.6,"rain":1.36},{"t":194.1,"t2":195.5,"rain":1.18},{"t":195.5,"t2":196.4,"rain":0.48},{"t":196.4,"t2":197.5,"rain":1.77},{"t":197.5,"t2":198.9,"rain":0.48},{"t":198.9,"t2":200.0,"rain":0.3},{"t":202.1,"t2":203.5,"rain":0.74},{"t":220.5,"t2":221.4,"rain":0.2},{"t":234.5,"t2":235.4,"rain":0.2}]
},
"layer":[
 {"data":{"name":"rain"},
  "mark":{"type":"rect","color":"black"},
  "encoding":{
   "x":{"field":"t","type":"quantitative","title":null},
   "x2":{"field":"t2"},
   "y":{"field":"rain","type":"quantitative","scale":{"domain":[0,25],"reverse":true,"nice":false},
        "axis":{"orient":"right","title":"Rain, mm hr ⁻¹","values":[0,1,2,3,4,5,6],"labelExpr":"datum.value % 2 == 0 ? datum.label : ''","tickSize":{"condition":{"test":"datum.value % 2 == 0","value":23},"value":12},"labelPadding":13,"grid":false,"domain":false,"titleAngle":270,"titleX":85,"titleY":56,"titleAlign":"center","titleBaseline":"middle","titleFontSize":19}},
   "y2":{"datum":0},
   "color":{"datum":"Rain"}
  }
 },
 {"layer":[
  {"data":{"name":"q"},
   "mark":{"type":"line","strokeWidth":2.5},
   "encoding":{
    "x":{"field":"t","type":"quantitative","scale":{"domain":[0,240],"nice":false,"zero":false},
         "axis":{"title":null,"values":[0,24,48,72,96,120,144,168,192,216,240],"labelExpr":"datum.value % 48 == 0 ? (12 + datum.value/24) + '-May' : ''","tickSize":{"condition":{"test":"datum.value % 48 == 0","value":23},"value":10},"labelPadding":15,"grid":true,"gridColor":"black","gridWidth":1,"domain":false,"labelFlush":false,"labelOverlap":false}},
    "y":{"field":"q","type":"quantitative","scale":{"domain":[0,0.5],"nice":false},
         "axis":{"title":"Discharge (m ³ s ⁻¹) and TP concentration (mg l ⁻¹)","values":[0,0.05,0.1,0.15,0.2,0.25,0.3,0.35,0.4,0.45,0.5],"labelExpr":"round(datum.value*100) % 10 == 0 ? format(datum.value,'.1f') : ''","tickSize":{"condition":{"test":"round(datum.value*100) % 10 == 0","value":22},"value":11},"labelPadding":11,"grid":false,"domain":true,"titleAngle":270,"titleX":-89,"titleY":226,"titleAlign":"center","titleBaseline":"middle"}},
    "color":{"datum":"Discharge","scale":{"domain":["Discharge","TP 10min data","TP hourly mean","Rain"],"range":["black","black","#8a8a8a","black"]},
     "legend":{"orient":"none","legendX":47,"legendY":60,"title":null,"padding":7,"strokeColor":"black","fillColor":"white","cornerRadius":0,"labelFontSize":20,"labelFont":"Liberation Sans","labelColor":"black","symbolSize":256,"labelOffset":112,"rowPadding":4.6,"clipHeight":24,"labelLimit":0,
      "encode":{"symbols":{"update":{
        "shape":{"signal":"datum.value === 'Rain' ? 'M-0.25,-1.44H14.125V1.44H-0.25Z' : datum.value === 'TP 10min data' ? 'M6.565,-0.155L6.785,-0.375L7.095,-0.375L7.315,-0.155L7.315,0.155L7.095,0.375L6.785,0.375L6.565,0.155Z' : 'M-0.25,0H14.125'"},
        "fill":{"signal":"datum.value === 'Rain' || datum.value === 'TP 10min data' ? 'black' : 'transparent'"},
        "stroke":{"signal":"datum.value === 'TP hourly mean' ? '#8a8a8a' : datum.value === 'Discharge' ? 'black' : 'transparent'"},
        "strokeWidth":{"signal":"datum.value === 'TP hourly mean' ? 3 : 2"},
        "opacity":{"value":1},"fillOpacity":{"value":1},"strokeOpacity":{"value":1}}}}}}
   }
  },
  {"data":{"name":"hm"},
   "mark":{"type":"line","strokeWidth":2.5},
   "encoding":{
    "x":{"field":"t","type":"quantitative","title":null},
    "y":{"field":"tp","type":"quantitative","scale":{"domain":[0,0.5],"nice":false},"title":"Discharge (m ³ s ⁻¹) and TP concentration (mg l ⁻¹)"},
    "color":{"datum":"TP hourly mean"}
   }
  },
  {"data":{"name":"tp"},
   "mark":{"type":"circle","size":24,"opacity":1},
   "encoding":{
    "x":{"field":"t","type":"quantitative","title":null},
    "y":{"field":"tp","type":"quantitative","scale":{"domain":[0,0.5],"nice":false},"title":"Discharge (m ³ s ⁻¹) and TP concentration (mg l ⁻¹)"},
    "color":{"datum":"TP 10min data"}
   }
  }
 ]}
],
"resolve":{"scale":{"y":"independent"}}
}
